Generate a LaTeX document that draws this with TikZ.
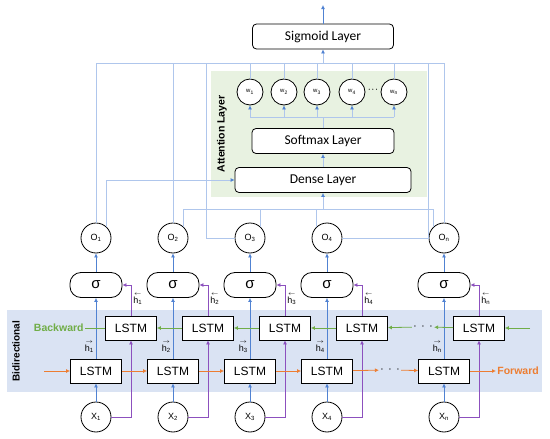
\documentclass[tikz,border=0pt]{standalone}
\usepackage{fontspec}
\setmainfont{Liberation Sans}
\newfontfamily\calib{Carlito}
\usetikzlibrary{arrows.meta, positioning}

\definecolor{arrblue}{RGB}{80,130,210}
\definecolor{lightblue}{RGB}{175,198,236}
\definecolor{hpurple}{RGB}{140,80,190}
\definecolor{bwgreen}{RGB}{112,173,71}
\definecolor{fworange}{RGB}{237,125,49}
\definecolor{bibg}{RGB}{218,227,243}
\definecolor{attbg}{RGB}{232,242,225}

\newcommand{\fs}[1]{\fontsize{#1}{#1}\selectfont}

\begin{document}
\begin{tikzpicture}[x=1pt, y=-1pt, line width=0.8pt,
    lstmbox/.style={draw, fill=white, minimum width=51pt, minimum height=24pt, font=\fs{12}},
    layerbox/.style={draw, fill=white, rounded corners=4pt, minimum height=25pt, font=\calib\fs{13.5}},
    sigbox/.style={draw, fill=white, rounded corners=11pt, minimum width=52pt, minimum height=25pt, font=\fs{15}},
    onode/.style={draw, fill=white, circle, minimum size=30pt, inner sep=0pt, font=\fs{9}},
    wnode/.style={draw, fill=white, circle, minimum size=26pt, inner sep=0pt, font=\fs{6}},
    hlab/.style={align=center, inner sep=1pt, font=\fs{9}},
    uparr/.style={arrblue, -{Latex[length=4pt, width=4pt]}},
    att/.style={lightblue},
    attarr/.style={lightblue, -{Latex[length=4pt, width=4pt, color=arrblue]}},
    hidarr/.style={hpurple, -{Latex[length=4pt, width=4pt]}},
    fwarr/.style={fworange, -{Latex[length=4pt, width=4pt]}},
    bwarr/.style={bwgreen, -{Latex[length=4pt, width=4pt]}},
  ]
  \useasboundingbox (0,0) rectangle (550,439);

  % backgrounds
  \fill[bibg] (7,310) rectangle (542,392);
  \fill[attbg] (211,71) rectangle (427,197);
  \node[font=\bfseries\fs{10}, rotate=90] (bilab) at (16,351) {Bidirectional};
  \node[font=\bfseries\fs{10.5}, rotate=90] (attlab) at (222,134) {Attention Layer};

  % columns
  \foreach \i/\cx in {1/96, 2/173, 3/250, 4/327, n/444} {
    \node[onode] (x\i) at (\cx,417) {X\textsubscript{\i}};
    \node[lstmbox] (f\i) at (\cx,371) {LSTM};
    \node[lstmbox] (b\i) at (\cx+35,328) {LSTM};
    \node[sigbox] (s\i) at (\cx,285) {σ};
    \node[onode] (o\i) at (\cx,238) {O\textsubscript{\i}};
    \node[hlab, anchor=west] (hb\i) at (\cx+36,299) {$\scriptstyle\leftarrow$\\[-1pt]h\textsubscript{\i}};
    \node[hlab, anchor=east] (hf\i) at (\cx-1,347) {$\scriptstyle\rightarrow$\\[-1pt]h\textsubscript{\i}};
  }

  % attention layer
  \node[layerbox, minimum width=176pt] (dense) at (323,180) {Dense Layer};
  \node[layerbox, minimum width=142pt] (soft) at (323,141) {Softmax Layer};
  \foreach \i/\wx in {1/250, 2/284, 3/317, 4/352, n/394}
    \node[wnode] (w\i) at (\wx,92) {w\textsubscript{\i}};
  \node[font=\bfseries\fs{11}] (wdots) at (373,90) {$\cdot\!\cdot\!\cdot$};
  \node[layerbox, minimum width=141pt] (sigl) at (323,36.5) {Sigmoid Layer};

  \coordinate (topbus) at (323,63);
  \coordinate (wbus) at (323,117);
  \coordinate (dbus) at (323,209);
  \coordinate (out) at (323,5);
  \coordinate (c3) at (206,63);
  \coordinate (c4) at (428,63);

  % top part
  \draw[uparr] (sigl.north) -- (out);
  \draw[attarr] (topbus) -- (sigl.south);
  \draw[att] (o1.north |- topbus) -- (on.north |- topbus);
  \foreach \i in {1,2,3,4,n} {
    \draw[att] (w\i.north) -- (w\i.north |- topbus);
    \draw[attarr] (w\i.south |- wbus) -- (w\i.south);
  }
  \draw[att] (w1.south |- wbus) -- (wn.south |- wbus);
  \draw[att] (soft.north) -- (wbus);
  \draw[attarr] (dense.north) -- (soft.south);

  % outputs to attention
  \draw[att] (o1.north) -- (o1.north |- topbus);
  \draw[att] (o2.north) -- (o2.north |- topbus);
  \draw[att] (o3.west) -| (c3);
  \draw[att] (o4.east) -| (c4);
  \draw[att] (on.north) -- (on.north |- topbus);
  \draw[attarr] (o1.45) |- (dense.west);
  \draw[att] (o2.45) |- (on.135 |- dbus) -- (on.135);
  \draw[att] (o3.45) -- (o3.45 |- dbus);
  \draw[att] (o4.135) -- (o4.135 |- dbus);
  \draw[attarr] (dbus) -- (dense.south);

  % vertical flow
  \foreach \i in {1,2,3,4,n} {
    \draw[uparr] (x\i) -- (f\i);
    \draw[uparr] (f\i) -- (s\i);
    \draw[uparr] (s\i) -- (o\i);
    \draw[hidarr] (x\i.east) -| (b\i.south);
    \draw[hidarr] (b\i.north) |- (s\i.east);
  }

  % forward chain
  \coordinate (fstart) at (44,371);
  \node[font=\bfseries\fs{12}, inner sep=1pt] (fdots) at (390,370) {$\cdot\,\cdot\,\cdot$};
  \node[font=\bfseries\fs{10.5}, text=fworange, anchor=west, inner sep=1pt] (fwd) at (496,371) {Forward};
  \draw[fwarr] (fstart) -- (f1.west);
  \foreach \a/\b in {1/2, 2/3, 3/4}
    \draw[fwarr] (f\a) -- (f\b);
  \draw[fwarr] (f4) -- (fdots);
  \draw[fwarr] (fdots) -- (fn);
  \draw[fwarr] (fn) -- (fwd);

  % backward chain
  \coordinate (bstart) at (530,328);
  \node[font=\bfseries\fs{12}, inner sep=1pt] (bdots) at (423,327) {$\cdot\,\cdot\,\cdot$};
  \node[font=\bfseries\fs{10.5}, text=bwgreen, anchor=east, inner sep=1pt] (bwd) at (85,328) {Backward};
  \draw[bwarr] (bstart) -- (bn.east);
  \draw[bwarr] (bn) -- (bdots);
  \draw[bwarr] (bdots) -- (b4);
  \foreach \a/\b in {1/2, 2/3, 3/4}
    \draw[bwarr] (b\b) -- (b\a);
  \draw[bwgreen] (b1) -- (bwd);
\end{tikzpicture}
\end{document}
